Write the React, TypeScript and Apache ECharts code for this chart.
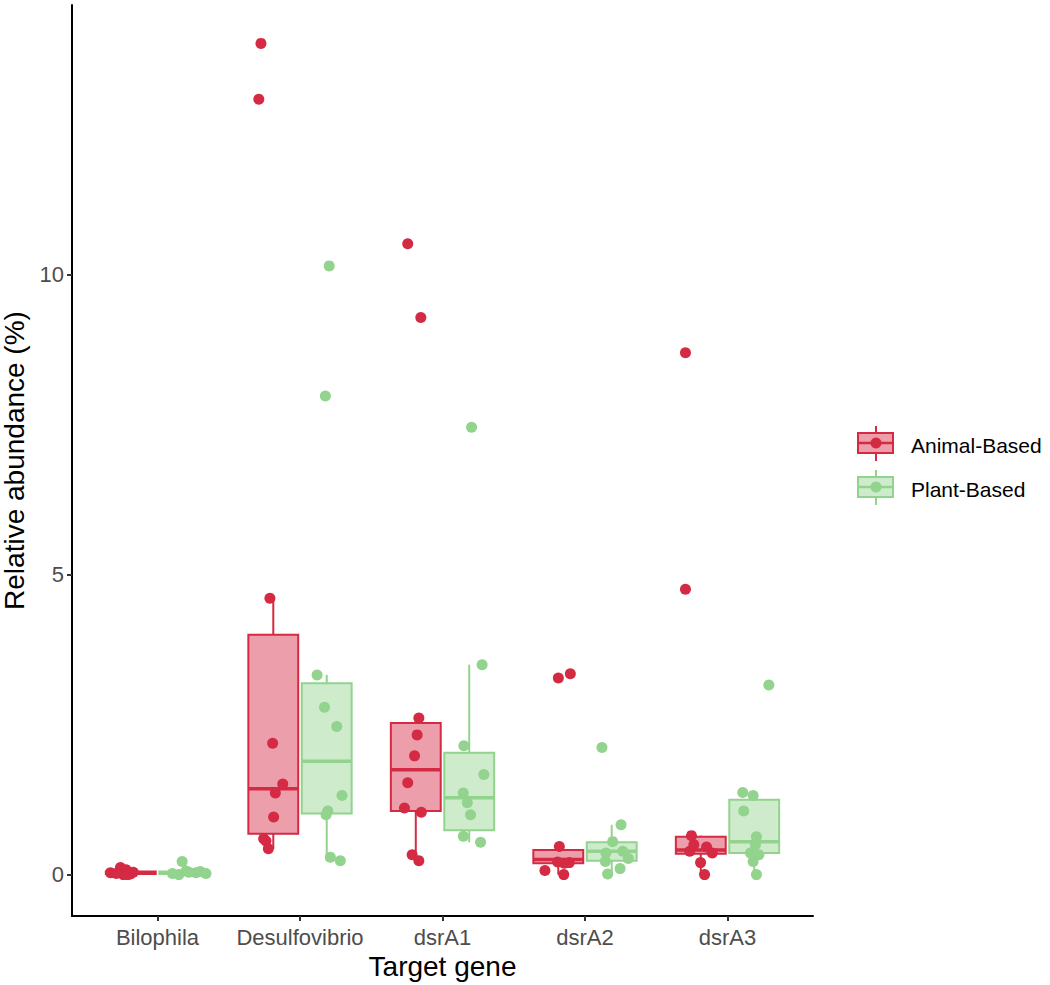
import React, { useEffect, useRef } from "react";
import * as echarts from "echarts";

const categories = ["Bilophila", "Desulfovibrio", "dsrA1", "dsrA2", "dsrA3"];
const groups = ["Animal-Based", "Plant-Based"];
const yTicks = [0, 5, 10];

// Box statistics per category: [low whisker, Q1, median, Q3, high whisker]
const animalBoxes = [
  [0.0, 0.01, 0.03, 0.05, 0.1],
  [0.43, 0.68, 1.43, 4.0, 4.61],
  [0.23, 1.06, 1.75, 2.53, 2.61],
  [0.0, 0.19, 0.25, 0.41, 0.47],
  [0.0, 0.35, 0.41, 0.63, 0.65],
];
const plantBoxes = [
  [0.0, 0.01, 0.03, 0.05, 0.08],
  [0.23, 1.02, 1.89, 3.19, 3.33],
  [0.54, 0.74, 1.28, 2.03, 3.5],
  [0.01, 0.23, 0.39, 0.54, 0.83],
  [0.0, 0.36, 0.55, 1.25, 1.37],
];

// Individual samples: category index, horizontal jitter (category units), value (%)
const animalCat = [0,0,0,0,0,0,0,0, 1,1,1,1,1,1,1,1,1,1, 2,2,2,2,2,2,2,2,2,2, 3,3,3,3,3,3,3,3, 4,4,4,4,4,4,4,4,4];
const animalJitter = [
  -0.33, -0.26, -0.22, -0.24, -0.19, -0.29, -0.17, -0.21,
  -0.211, -0.192, -0.121, -0.173, -0.185, -0.255, -0.239, -0.222, -0.289, -0.274,
  -0.166, -0.178, -0.196, -0.244, -0.267, -0.149, -0.213, -0.166, -0.244, -0.152,
  -0.18, -0.281, -0.149, -0.145, -0.11, -0.192, -0.187, -0.103,
  -0.253, -0.236, -0.147, -0.107, -0.265, -0.189, -0.161, -0.295, -0.295,
];
const animalValues = [
  0.03, 0.12, 0.08, 0.0, 0.01, 0.02, 0.04, 0.0,
  4.61, 2.19, 1.51, 1.36, 0.96, 0.6, 0.56, 0.43, 12.93, 13.86,
  2.61, 2.33, 1.98, 1.53, 1.11, 1.04, 0.33, 0.23, 10.52, 9.29,
  0.47, 0.07, 0.0, 0.19, 0.2, 0.21, 3.28, 3.35,
  0.65, 0.5, 0.46, 0.36, 0.39, 0.2, 0.0, 8.7, 4.76,
];

const plantCat = [0,0,0,0,0,0,0,0, 1,1,1,1,1,1,1,1,1,1, 2,2,2,2,2,2,2,2,2, 3,3,3,3,3,3,3,3,3, 4,4,4,4,4,4,4,4,4,4];
const plantJitter = [
  0.173, 0.105, 0.22, 0.27, 0.3, 0.15, 0.34, 0.2,
  0.12, 0.172, 0.258, 0.295, 0.195, 0.183, 0.213, 0.283, 0.205, 0.178,
  0.278, 0.15, 0.29, 0.146, 0.174, 0.197, 0.146, 0.267, 0.204,
  0.253, 0.194, 0.265, 0.147, 0.304, 0.143, 0.246, 0.159, 0.119,
  0.107, 0.18, 0.114, 0.203, 0.196, 0.161, 0.22, 0.18, 0.203, 0.29,
];
const plantValues = [
  0.22, 0.02, 0.04, 0.03, 0.05, 0.0, 0.02, 0.06,
  3.33, 2.79, 2.47, 1.32, 1.06, 1.0, 0.29, 0.23, 10.15, 7.98,
  3.5, 2.15, 1.67, 1.36, 1.2, 1.0, 0.64, 0.54, 7.46,
  0.83, 0.55, 0.39, 0.36, 0.27, 0.22, 0.1, 0.01, 2.12,
  1.37, 1.32, 1.06, 0.63, 0.5, 0.36, 0.33, 0.22, 0.0, 3.16,
];

const RED = "#D42A43";
const RED_FILL = "rgba(212,42,67,0.45)";
const GREEN = "#92D38D";
const GREEN_FILL = "rgba(146,211,141,0.45)";
const FONT = "Liberation Sans, Arial, sans-serif";

function boxSeries(name: string, boxes: number[][], offset: number, color: string, fill: string) {
  return {
    name,
    type: "custom",
    z: 2,
    data: boxes.map((b, i) => [i, ...b]),
    renderItem: (params: any, api: any) => {
      const x = api.value(0) + offset;
      const left = api.coord([x - 0.175, 0])[0];
      const right = api.coord([x + 0.175, 0])[0];
      const cx = api.coord([x, 0])[0];
      const yLo = api.coord([x, api.value(1)])[1];
      const yQ1 = api.coord([x, api.value(2)])[1];
      const yMed = api.coord([x, api.value(3)])[1];
      const yQ3 = api.coord([x, api.value(4)])[1];
      const yHi = api.coord([x, api.value(5)])[1];
      return {
        type: "group",
        children: [
          { type: "line", shape: { x1: cx, y1: yHi, x2: cx, y2: yQ3 }, style: { stroke: color, lineWidth: 2 } },
          { type: "line", shape: { x1: cx, y1: yQ1, x2: cx, y2: yLo }, style: { stroke: color, lineWidth: 2 } },
          {
            type: "rect",
            shape: { x: left, y: yQ3, width: right - left, height: Math.max(yQ1 - yQ3, 0.5) },
            style: { fill, stroke: color, lineWidth: 2 },
          },
          { type: "line", shape: { x1: left, y1: yMed, x2: right, y2: yMed }, style: { stroke: color, lineWidth: 3.5 } },
        ],
      };
    },
  };
}

function pointSeries(name: string, cats: number[], jit: number[], vals: number[], color: string) {
  return {
    name,
    type: "scatter",
    z: 3,
    symbol: "circle",
    symbolSize: 11,
    itemStyle: { color, opacity: 1 },
    data: vals.map((v, i) => [cats[i] + jit[i], v]),
  };
}

function legendItem(y: number, color: string, fill: string, label: string) {
  return [
    { type: "line", shape: { x1: 876, y1: y - 17, x2: 876, y2: y - 10 }, style: { stroke: color, lineWidth: 2 } },
    { type: "line", shape: { x1: 876, y1: y + 10, x2: 876, y2: y + 18 }, style: { stroke: color, lineWidth: 2 } },
    { type: "rect", shape: { x: 858, y: y - 10, width: 35, height: 20 }, style: { fill, stroke: color, lineWidth: 2 } },
    { type: "line", shape: { x1: 858, y1: y, x2: 893, y2: y }, style: { stroke: color, lineWidth: 2.5 } },
    { type: "circle", shape: { cx: 876, cy: y, r: 5.5 }, style: { fill: color } },
    {
      type: "text",
      x: 911,
      y: y + 2,
      style: { text: label, fill: "#000", font: `21px ${FONT}`, textVerticalAlign: "middle", textAlign: "left" },
    },
  ];
}

export default function App() {
  const ref = useRef<HTMLDivElement>(null);
  useEffect(() => {
    const chart = echarts.init(ref.current!, undefined, { renderer: "svg" });
    chart.setOption({
      animation: false,
      backgroundColor: "#fff",
      grid: { left: 72, right: 237, top: 5, bottom: 69, containLabel: false, outerBoundsMode: "none" },
      xAxis: {
        type: "value",
        min: -0.6,
        max: 4.6,
        splitLine: { show: false },
        axisLine: { show: true, onZero: false, lineStyle: { color: "#000", width: 2 } },
        axisTick: { show: true, customValues: [0, 1, 2, 3, 4], length: 5, lineStyle: { color: "#333", width: 2 } },
        axisLabel: {
          customValues: [0, 1, 2, 3, 4],
          formatter: (v: number) => categories[Math.round(v)] ?? "",
          fontSize: 22,
          fontFamily: FONT,
          color: "#4D4D4D",
          margin: 10,
        },
        name: "Target gene",
        nameLocation: "middle",
        nameGap: 34,
        nameTextStyle: { fontSize: 28, fontFamily: FONT, color: "#000" },
      },
      yAxis: {
        type: "value",
        min: -0.69,
        max: 14.5,
        splitLine: { show: false },
        axisLine: { show: true, onZero: false, lineStyle: { color: "#000", width: 2 } },
        axisTick: { show: true, customValues: yTicks, length: 5, lineStyle: { color: "#333", width: 2 } },
        axisLabel: {
          customValues: yTicks,
          fontSize: 22,
          fontFamily: FONT,
          color: "#4D4D4D",
          margin: 8,
        },
        name: "Relative abundance (%)",
        nameLocation: "middle",
        nameGap: 39,
        nameTextStyle: { fontSize: 28, fontFamily: FONT, color: "#000" },
      },
      series: [
        boxSeries(groups[0], animalBoxes, -0.1875, RED, RED_FILL),
        boxSeries(groups[1], plantBoxes, 0.1875, GREEN, GREEN_FILL),
        pointSeries(groups[0], animalCat, animalJitter, animalValues, RED),
        pointSeries(groups[1], plantCat, plantJitter, plantValues, GREEN),
      ],
      graphic: [
        ...legendItem(443, RED, RED_FILL, groups[0]),
        ...legendItem(487, GREEN, GREEN_FILL, groups[1]),
      ],
    });
    return () => chart.dispose();
  }, []);
  return (
    <div
      ref={ref}
      style={{ position: "fixed", left: 0, top: 0, width: 1050, height: 985, background: "#fff" }}
    />
  );
}
